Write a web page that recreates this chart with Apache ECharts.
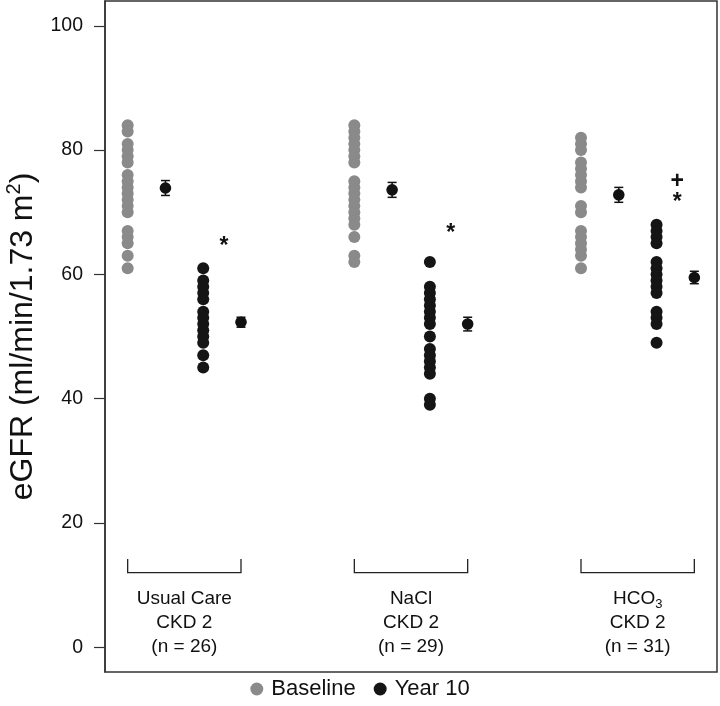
<!DOCTYPE html>
<html>
<head>
<meta charset="utf-8">
<script src="https://cdn.jsdelivr.net/npm/echarts@6/dist/echarts.min.js"></script>
<style>html,body{margin:0;padding:0;background:#fff}#c{width:720px;height:706px}</style>
</head>
<body>
<div id="c"></div>
<script>
// ---- data ----
const groupNames = ['Usual Care', 'NaCl', 'HCO3'];
const groupN = [26, 29, 31];
const groupSubtitle = 'CKD 2';
const yTicks = [0, 20, 40, 60, 80, 100];

const baselineX = [1, 7, 13];
const baselineMeanX = [2, 8, 14];
const year10X = [3, 9, 15];
const year10MeanX = [4, 10, 16];

const baselineUC = [84, 83, 81, 80, 79, 78, 76, 75, 74, 73, 72, 71, 70, 67, 66, 65, 63, 61];
const year10UC = [61, 59, 58, 57, 56, 54, 53, 52, 51, 50, 49, 47, 45];
const baselineNaCl = [84, 83, 82, 81, 80, 79, 78, 75, 74, 73, 72, 71, 70, 69, 68, 66, 63, 62];
const year10NaCl = [62, 58, 57, 56, 55, 54, 53, 52, 50, 48, 47, 46, 45, 44, 40, 39];
const baselineHCO3 = [82, 81, 80, 78, 77, 76, 75, 74, 71, 70, 67, 66, 65, 64, 63, 61];
const year10HCO3 = [68, 67, 66, 65, 62, 61, 60, 59, 58, 57, 54, 53, 52, 49];

const baselineMean = [73.9, 73.6, 72.8];
const baselineSE = [1.2, 1.2, 1.2];
const year10Mean = [52.3, 52.0, 59.5];
const year10SE = [0.8, 1.1, 1.0];

// significance marks: [x, y, symbol]
const marks = [[3.55, 65, '*'], [9.55, 67, '*'], [15.55, 72, '*'], [15.55, 75, '+']];

// ---- build ----
const baselineAll = [baselineUC, baselineNaCl, baselineHCO3];
const year10All = [year10UC, year10NaCl, year10HCO3];
const baseData = [], y10Data = [];
baselineAll.forEach((arr, g) => arr.forEach(v => baseData.push([baselineX[g], v])));
year10All.forEach((arr, g) => arr.forEach(v => y10Data.push([year10X[g], v])));
const meanData = [];
for (let g = 0; g < 3; g++) {
  meanData.push([baselineMeanX[g], baselineMean[g], baselineSE[g]]);
  meanData.push([year10MeanX[g], year10Mean[g], year10SE[g]]);
}
const bracketData = groupNames.map((n, g) => [baselineX[g], year10MeanX[g], 12, 14.2, g]);

const FONT = '"Liberation Sans", Arial, Helvetica, sans-serif';
const chart = echarts.init(document.getElementById('c'), null, {renderer: 'canvas'});

function labelText(g) {
  const name = groupNames[g] === 'HCO3' ? '{t|HCO}{sub|3}' : '{t|' + groupNames[g] + '}';
  return name + '\n{t|' + groupSubtitle + '}\n{t|(n = ' + groupN[g] + ')}';
}

chart.setOption({
  animation: false,
  backgroundColor: '#fff',
  grid: {left: 105, right: 3, top: 1, bottom: 34, show: true, borderColor: '#333', borderWidth: 1.5,
         containLabel: false, outerBoundsMode: 'none'},
  xAxis: {type: 'value', min: 0.4, max: 16.6, show: false},
  yAxis: {
    type: 'value', min: -4, max: 104,
    name: '{a|eGFR (ml/min/1.73 m}{s|2}{a|)}',
    nameLocation: 'middle', nameGap: 55,
    nameTextStyle: {
      rich: {
        a: {fontSize: 32, fontFamily: FONT, color: '#111', lineHeight: 38},
        s: {fontSize: 20, fontFamily: FONT, color: '#111', verticalAlign: 'top', lineHeight: 18}
      }
    },
    axisLine: {show: true, lineStyle: {color: '#333', width: 1.5}},
    axisTick: {show: true, inside: false, length: 11, customValues: yTicks, lineStyle: {color: '#333', width: 1.2}},
    axisLabel: {show: true, customValues: yTicks, margin: 22, fontSize: 19.5, fontFamily: FONT, color: '#111'},
    splitLine: {show: false}
  },
  legend: {
    bottom: 1, left: 'center', icon: 'circle', itemWidth: 13, itemHeight: 13, itemGap: 18,
    textStyle: {fontSize: 22, fontFamily: FONT, color: '#111', padding: [0, 0, 0, 3]},
    data: ['Baseline', 'Year 10']
  },
  series: [
    {name: 'Baseline', type: 'scatter', data: baseData, symbolSize: 12, itemStyle: {color: '#8a8a8a', opacity: 1}},
    {name: 'Year 10', type: 'scatter', data: y10Data, symbolSize: 12, itemStyle: {color: '#151515', opacity: 1}},
    {
      name: 'means', type: 'custom', data: meanData,
      renderItem: function (params, api) {
        const x = api.value(0), m = api.value(1), se = api.value(2);
        const c = api.coord([x, m]);
        const t = api.coord([x, m + se]);
        const b = api.coord([x, m - se]);
        const st = {stroke: '#111', lineWidth: 1.5};
        return {type: 'group', children: [
          {type: 'line', shape: {x1: c[0], y1: t[1], x2: c[0], y2: b[1]}, style: st},
          {type: 'line', shape: {x1: c[0] - 4.5, y1: t[1], x2: c[0] + 4.5, y2: t[1]}, style: st},
          {type: 'line', shape: {x1: c[0] - 4.5, y1: b[1], x2: c[0] + 4.5, y2: b[1]}, style: st},
          {type: 'circle', shape: {cx: c[0], cy: c[1], r: 5.8}, style: {fill: '#111'}}
        ]};
      }
    },
    {
      name: 'brackets', type: 'custom', data: bracketData,
      renderItem: function (params, api) {
        const x1 = api.value(0), x2 = api.value(1), yl = api.value(2), yt = api.value(3), g = api.value(4);
        const p1 = api.coord([x1, yl]), p2 = api.coord([x2, yl]);
        const t1 = api.coord([x1, yt]);
        const mid = (p1[0] + p2[0]) / 2;
        return {type: 'group', children: [
          {type: 'polyline', shape: {points: [[p1[0], t1[1]], [p1[0], p1[1]], [p2[0], p2[1]], [p2[0], t1[1]]]}, style: {stroke: '#222', lineWidth: 1.3, fill: null}},
          {type: 'text', x: mid, y: p1[1] + 14, style: {
            text: labelText(g), align: 'center', verticalAlign: 'top', fill: '#111',
            rich: {
              t: {fontSize: 19, fontFamily: FONT, color: '#111', lineHeight: 24},
              sub: {fontSize: 13, fontFamily: FONT, color: '#111', verticalAlign: 'bottom', lineHeight: 14}
            }
          }}
        ]};
      }
    },
    {
      name: 'marks', type: 'custom', data: marks,
      renderItem: function (params, api) {
        const m = marks[params.dataIndex];
        const p = api.coord([m[0], m[1]]);
        return {type: 'text', x: p[0], y: p[1] + (m[2] === '*' ? 3 : 0), style: {
          text: m[2], align: 'center', verticalAlign: 'middle',
          font: 'bold 23px ' + FONT, fill: '#111'
        }};
      }
    }
  ]
});
</script>
</body>
</html>
